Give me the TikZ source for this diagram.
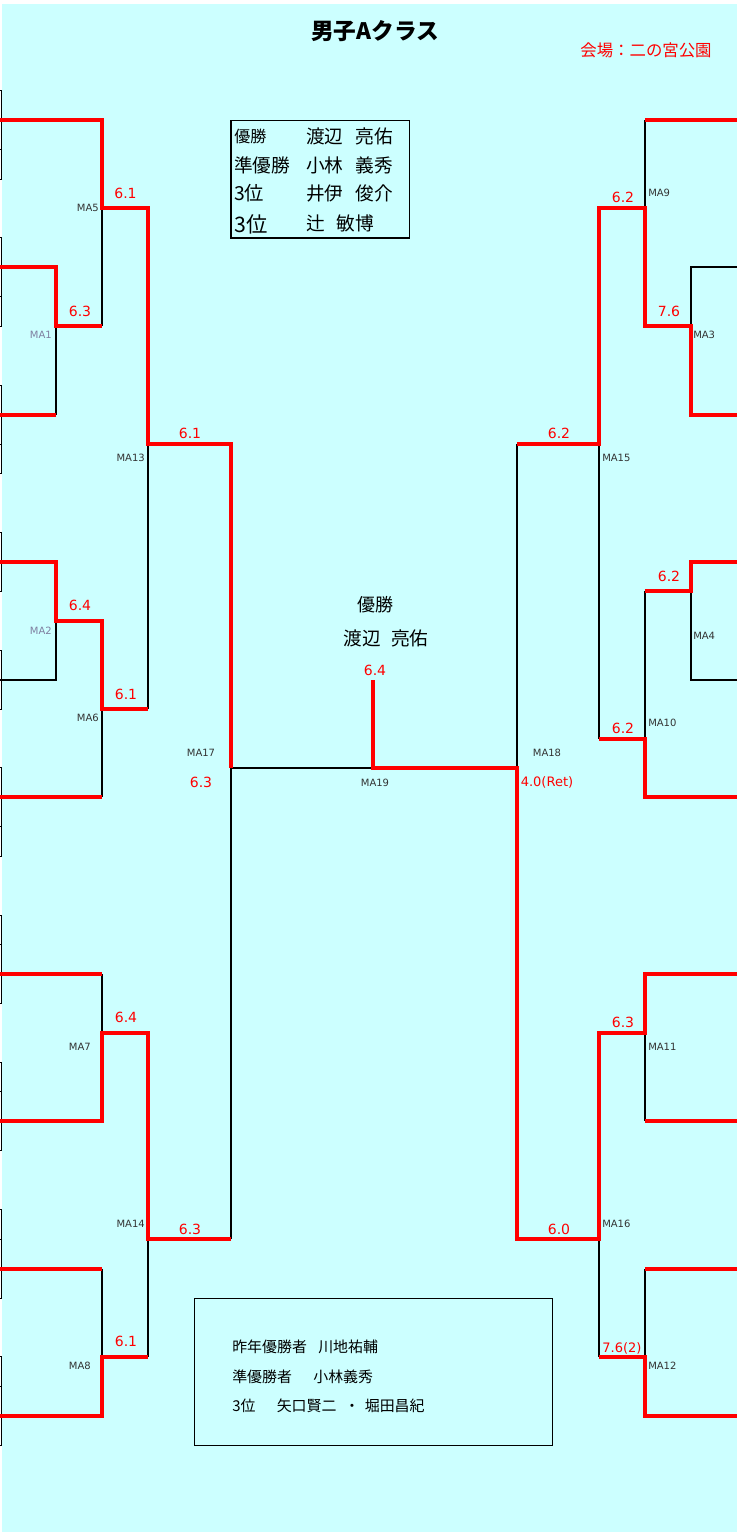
\documentclass[tikz,border=0pt]{standalone}
\usepackage{fontspec}
\setmainfont{Noto Sans CJK JP}
\newfontfamily\dvfont{DejaVu Sans}
\usepackage{xcolor}
\usepackage{tikz}
\usetikzlibrary{positioning,calc}

\definecolor{bgcyan}{HTML}{CCFFFF}
\definecolor{labgray}{HTML}{333333}
\definecolor{labpurple}{HTML}{7F7FA0}

\tikzset{
  won/.style={draw=red, line width=3pt},
  lost/.style={draw=black, line width=1.5pt},
  edgetick/.style={draw=black, line width=0.75pt},
  framebox/.style={draw=black, line width=1pt},
  matchlab/.style={inner sep=0pt, text=labgray, font=\dvfont\fontsize{7.5}{9}\selectfont},
  scorelab/.style={inner sep=0pt, text=red, font=\dvfont\fontsize{10.5}{12}\selectfont},
  longscore/.style={scorelab, font=\dvfont\fontsize{9.75}{11}\selectfont},
  jptext/.style={inner sep=0pt, anchor=west, text=black},
}

\begin{document}
\begin{tikzpicture}[x=0.75pt, y=-0.75pt]
    \useasboundingbox (0,0) rectangle (737,1532);
    \fill[bgcyan] (1.5,4) rectangle (737,1532);

    % cell edges on the left border
    \foreach \a/\b/\c in {90.5/149.5/179, 237.8/296.7/326.2, 385.1/444/473.4, 532.3/591.2/591.2,
        650.1/679.6/709, 767.9/826.8/856.3, 915.2/944.6/1003.5, 1062.4/1091.9/1150.8,
        1209.7/1239.1/1298, 1356.9/1386.4/1445.3}
        \draw[edgetick] (0,\a) -- (1.5,\a) -- (1.5,\c) -- (0,\c) (0,\b) -- (1.5,\b);

    % title
    \node[font=\bfseries\fontsize{17}{20}\selectfont] (title) at (375,31) {男子Aクラス};
    \node[text=red, font=\fontsize{12.3}{15}\selectfont] (venue) at (646,50.5) {会場：二の宮公園};

    % results box
    \draw[framebox] (231,120.7) rectangle (409.3,238);
    \node[jptext, font=\fontsize{12}{14}\selectfont] (rank1) at (234,136.5) {優勝};
    \node[jptext, font=\fontsize{14}{16}\selectfont] (name1) at (306,136.5) {渡辺\hspace{9pt}亮佑};
    \node[jptext, font=\fontsize{14}{16}\selectfont] (rank2) at (234,165) {準優勝};
    \node[jptext, font=\fontsize{14}{16}\selectfont] (name2) at (306,165) {小林\hspace{9pt}義秀};
    \node[jptext, font=\fontsize{14.5}{17}\selectfont] (rank3) at (234,193.5) {3位};
    \node[jptext, font=\fontsize{14}{16}\selectfont] (name3) at (306,193.5) {井伊\hspace{9pt}俊介};
    \node[jptext, font=\fontsize{16}{19}\selectfont] (rank4) at (234,224) {3位};
    \node[jptext, font=\fontsize{14}{16}\selectfont] (name4) at (306,223.5) {辻\hspace{9pt}敏博};

    % left half, losers
    \draw[lost] (102,208.4) -- (102,326.2);
    \draw[lost] (56,326.2) -- (56,414.5);
    \draw[lost] (148,444) -- (148,709);
    \draw[lost] (56,620.7) -- (56,679.6) -- (0,679.6);
    \draw[lost] (102,709) -- (102,797.4);
    \draw[lost] (231,767.9) -- (231,1239.1);
    \draw[lost] (231,767.9) -- (373,767.9);
    \draw[lost] (102,974.1) -- (102,1033);
    \draw[lost] (148,1239.1) -- (148,1356.9);
    \draw[lost] (102,1268.6) -- (102,1356.9);

    % left half, winners
    \draw[won] (0,120) -- (102,120) -- (102,208.4) -- (148,208.4) -- (148,444) -- (231,444) -- (231,767.9);
    \draw[won] (0,267.3) -- (56,267.3) -- (56,326.2) -- (102,326.2);
    \draw[won] (0,414.5) -- (56,414.5);
    \draw[won] (0,561.8) -- (56,561.8) -- (56,620.7) -- (102,620.7) -- (102,709) -- (148,709);
    \draw[won] (0,797.4) -- (102,797.4);
    \draw[won] (0,974.1) -- (102,974.1);
    \draw[won] (0,1121.3) -- (102,1121.3) -- (102,1033) -- (148,1033) -- (148,1239.1) -- (231,1239.1);
    \draw[won] (0,1268.6) -- (102,1268.6);
    \draw[won] (0,1415.8) -- (102,1415.8) -- (102,1356.9) -- (148,1356.9);

    % right half, losers
    \draw[lost] (645,120) -- (645,208.4);
    \draw[lost] (737,267.3) -- (691,267.3) -- (691,326.2);
    \draw[lost] (517,444) -- (517,767.9);
    \draw[lost] (599,444) -- (599,738.5);
    \draw[lost] (645,591.2) -- (645,738.5);
    \draw[lost] (691,591.2) -- (691,679.6) -- (737,679.6);
    \draw[lost] (645,1033) -- (645,1121.3);
    \draw[lost] (599,1239.1) -- (599,1356.9);
    \draw[lost] (645,1268.6) -- (645,1356.9);

    % right half, winners
    \draw[won] (737,120) -- (645,120);
    \draw[won] (737,414.5) -- (691,414.5) -- (691,326.2) -- (645,326.2) -- (645,208.4) -- (599,208.4) -- (599,444) -- (517,444);
    \draw[won] (599,738.5) -- (645,738.5) -- (645,797.4) -- (737,797.4);
    \draw[won] (645,591.2) -- (691,591.2) -- (691,561.8) -- (737,561.8);
    \draw[won] (737,974.1) -- (645,974.1) -- (645,1033) -- (599,1033) -- (599,1239.1) -- (517,1239.1) -- (517,767.9) -- (373,767.9) -- (373,680);
    \draw[won] (645,1121.3) -- (737,1121.3);
    \draw[won] (599,1356.9) -- (645,1356.9) -- (645,1415.8) -- (737,1415.8);
    \draw[won] (737,1268.6) -- (645,1268.6);

    % left labels
    \node[matchlab, anchor=east] (ma5) at (99,207.5) {MA5};
    \node[scorelab] (sc5) at (125.5,193.5) {6.1};
    \node[scorelab] (sc1) at (80,311) {6.3};
    \node[matchlab, anchor=east, text=labpurple] (ma1) at (52,335) {MA1};
    \node[scorelab] (sc13) at (190,433) {6.1};
    \node[matchlab, anchor=east] (ma13) at (145,458) {MA13};
    \node[scorelab] (sc2) at (80,605.5) {6.4};
    \node[matchlab, anchor=east, text=labpurple] (ma2) at (52,630.5) {MA2};
    \node[scorelab] (sc6) at (126,694) {6.1};
    \node[matchlab, anchor=east] (ma6) at (99,718) {MA6};
    \node[matchlab] (ma17) at (201,753) {MA17};
    \node[scorelab] (sc17) at (201,782) {6.3};
    \node[scorelab] (sc7) at (126,1017) {6.4};
    \node[matchlab, anchor=east] (ma7) at (91,1047) {MA7};
    \node[matchlab, anchor=east] (ma14) at (145,1224) {MA14};
    \node[scorelab] (sc14) at (190,1229) {6.3};
    \node[scorelab] (sc8) at (126,1341) {6.1};
    \node[matchlab, anchor=east] (ma8) at (91,1366) {MA8};

    % right labels
    \node[matchlab, anchor=west] (ma9) at (648,193) {MA9};
    \node[scorelab] (sc9) at (623,197) {6.2};
    \node[scorelab] (sc3) at (669,311) {7.6};
    \node[matchlab, anchor=west] (ma3) at (693,335) {MA3};
    \node[scorelab] (sc15) at (559,433) {6.2};
    \node[matchlab, anchor=west] (ma15) at (602,458) {MA15};
    \node[scorelab] (sc4) at (669,576) {6.2};
    \node[matchlab, anchor=west] (ma4) at (693,635.5) {MA4};
    \node[matchlab, anchor=west] (ma10) at (648,723) {MA10};
    \node[scorelab] (sc10) at (623,728.5) {6.2};
    \node[matchlab] (ma18) at (547,753) {MA18};
    \node[longscore] (sc18) at (547,782) {4.0(Ret)};
    \node[scorelab] (sc11) at (623,1022) {6.3};
    \node[matchlab, anchor=west] (ma11) at (648,1047) {MA11};
    \node[matchlab, anchor=west] (ma16) at (602,1224) {MA16};
    \node[scorelab] (sc16) at (559,1229) {6.0};
    \node[longscore] (sc12) at (622,1348) {7.6(2)};
    \node[matchlab, anchor=west] (ma12) at (648,1366) {MA12};

    % final
    \node[matchlab] (ma19) at (375,783) {MA19};
    \node[scorelab] (sc19) at (375,670) {6.4};
    \node[font=\fontsize{13.5}{16}\selectfont] (champ) at (375,605) {優勝};
    \node[font=\fontsize{14}{16}\selectfont] (champname) at (386,638.5) {渡辺\hspace{8pt}亮佑};

    % last year box
    \draw[framebox] (194.3,1298.3) rectangle (552.7,1445.3);
    \node[jptext, font=\fontsize{11.2}{13}\selectfont] (lastwin) at (232,1347) {昨年優勝者\hspace{8.5pt}川地祐輔};
    \node[jptext, font=\fontsize{11.2}{13}\selectfont] (lastrun) at (232,1377) {準優勝者\hspace{16pt}小林義秀};
    \node[jptext, font=\fontsize{11.2}{13}\selectfont] (lastthird) at (232,1406) {3位\hspace{16pt}矢口賢二\hspace{6pt}・\hspace{4pt}堀田昌紀};
\end{tikzpicture}
\end{document}
